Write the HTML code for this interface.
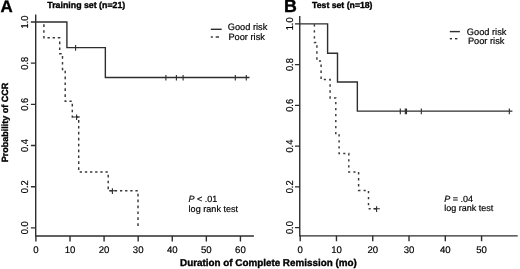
<!DOCTYPE html>
<html><head><meta charset="utf-8"><style>
html,body{margin:0;padding:0;background:#fff;}
svg{display:block;text-rendering:geometricPrecision;}
text{font-family:"Liberation Sans",Arial,sans-serif;fill:#000;stroke:#000;stroke-width:0.18px;}
.b{font-weight:bold;fill:#000;stroke:#000;stroke-width:0.35px;}
.bb{font-weight:bold;fill:#000;stroke:#000;stroke-width:0.4px;}
</style></head><body>
<svg width="520" height="269" viewBox="0 0 520 269">
<rect width="520" height="269" fill="#fff"/>
<path d="M35.7 14.6 V236 H253.9" fill="none" stroke="#2e2e2e" stroke-width="1.4"/>
<path d="M30.9 227.85 H35.7 M30.9 186.68 H35.7 M30.9 145.51 H35.7 M30.9 104.34 H35.7 M30.9 63.17 H35.7 M30.9 22 H35.7 M35.9 236 V241.5 M69.99 236 V241.5 M104.08 236 V241.5 M138.17 236 V241.5 M172.26 236 V241.5 M206.35 236 V241.5 M240.44 236 V241.5 " fill="none" stroke="#2e2e2e" stroke-width="1.4"/>
<text transform="translate(27.8 227.85) rotate(-90) scale(1 1.08)" text-anchor="middle" font-size="9.3">0.0</text>
<text transform="translate(27.8 186.68) rotate(-90) scale(1 1.08)" text-anchor="middle" font-size="9.3">0.2</text>
<text transform="translate(27.8 145.51) rotate(-90) scale(1 1.08)" text-anchor="middle" font-size="9.3">0.4</text>
<text transform="translate(27.8 104.34) rotate(-90) scale(1 1.08)" text-anchor="middle" font-size="9.3">0.6</text>
<text transform="translate(27.8 63.17) rotate(-90) scale(1 1.08)" text-anchor="middle" font-size="9.3">0.8</text>
<text transform="translate(27.8 22) rotate(-90) scale(1 1.08)" text-anchor="middle" font-size="9.3">1.0</text>
<text x="35.9" y="252.5" text-anchor="middle" font-size="9.6">0</text>
<text x="69.99" y="252.5" text-anchor="middle" font-size="9.6">10</text>
<text x="104.08" y="252.5" text-anchor="middle" font-size="9.6">20</text>
<text x="138.17" y="252.5" text-anchor="middle" font-size="9.6">30</text>
<text x="172.26" y="252.5" text-anchor="middle" font-size="9.6">40</text>
<text x="206.35" y="252.5" text-anchor="middle" font-size="9.6">50</text>
<text x="240.44" y="252.5" text-anchor="middle" font-size="9.6">60</text>
<path d="M299.75 16.1 V235.85 H517.7" fill="none" stroke="#2e2e2e" stroke-width="1.4"/>
<path d="M294.95 227.6 H299.75 M294.95 186.86 H299.75 M294.95 146.12 H299.75 M294.95 105.38 H299.75 M294.95 64.64 H299.75 M294.95 23.9 H299.75 M300.2 235.85 V241.35 M336.47 235.85 V241.35 M372.75 235.85 V241.35 M409.02 235.85 V241.35 M445.3 235.85 V241.35 M481.57 235.85 V241.35 " fill="none" stroke="#2e2e2e" stroke-width="1.4"/>
<text transform="translate(292.6 227.6) rotate(-90) scale(1 1.08)" text-anchor="middle" font-size="9.3">0.0</text>
<text transform="translate(292.6 186.86) rotate(-90) scale(1 1.08)" text-anchor="middle" font-size="9.3">0.2</text>
<text transform="translate(292.6 146.12) rotate(-90) scale(1 1.08)" text-anchor="middle" font-size="9.3">0.4</text>
<text transform="translate(292.6 105.38) rotate(-90) scale(1 1.08)" text-anchor="middle" font-size="9.3">0.6</text>
<text transform="translate(292.6 64.64) rotate(-90) scale(1 1.08)" text-anchor="middle" font-size="9.3">0.8</text>
<text transform="translate(292.6 23.9) rotate(-90) scale(1 1.08)" text-anchor="middle" font-size="9.3">1.0</text>
<text x="300.2" y="252.5" text-anchor="middle" font-size="9.6">0</text>
<text x="336.47" y="252.5" text-anchor="middle" font-size="9.6">10</text>
<text x="372.75" y="252.5" text-anchor="middle" font-size="9.6">20</text>
<text x="409.02" y="252.5" text-anchor="middle" font-size="9.6">30</text>
<text x="445.3" y="252.5" text-anchor="middle" font-size="9.6">40</text>
<text x="481.57" y="252.5" text-anchor="middle" font-size="9.6">50</text>
<path d="M43.9 24.23 L43.9 26.88 M43.9 30.13 L43.9 32.78 M43.9 36.03 L43.9 37.8 L44.67 37.8 M47.5 37.8 L49.82 37.8 M52.65 37.8 L54.97 37.8 M57.8 37.8 L59.7 37.8 L59.7 38.28 M59.7 41.53 L59.7 44.18 M59.7 47.43 L59.7 50.08 M59.7 53.33 L59.7 53.7 L61.69 53.7 M62.5 56.02 L62.5 58.68 M62.5 61.92 L62.5 64.58 M62.5 67.82 L62.5 69.5 L63.35 69.5 M65.2 70.63 L65.2 73.28 M65.2 76.53 L65.2 79.18 M65.2 82.43 L65.2 85.08 M65.2 88.33 L65.2 90.98 M65.2 94.23 L65.2 96.88 M65.2 100.13 L65.2 101.2 L66.58 101.2 M69.41 101.2 L71.73 101.2 M72.3 103.79 L72.3 106.45 M72.3 109.69 L72.3 112.35 M72.3 115.59 L72.3 117 L73.39 117 M76.22 117 L78.54 117 M78.7 120.06 L78.7 122.72 M78.7 125.96 L78.7 128.62 M78.7 131.86 L78.7 134.52 M78.7 137.76 L78.7 140.42 M78.7 143.66 L78.7 146.32 M78.7 149.56 L78.7 152.22 M78.7 155.46 L78.7 158.12 M78.7 161.36 L78.7 164.02 M78.7 167.26 L78.7 169.92 M79.71 172 L82.03 172 M84.86 172 L87.18 172 M90.01 172 L92.33 172 M95.16 172 L97.48 172 M100.31 172 L102.63 172 M105.46 172 L107.78 172 M108.2 174.76 L108.2 177.42 M108.2 180.66 L108.2 183.32 M108.2 186.56 L108.2 189.22 M109.65 190.8 L111.97 190.8 M114.8 190.8 L117.12 190.8 M119.95 190.8 L122.27 190.8 M125.1 190.8 L127.42 190.8 M130.25 190.8 L132.57 190.8 M135.4 190.8 L137.72 190.8 M138 193.72 L138 196.38 M138 199.62 L138 202.28 M138 205.52 L138 208.18 M138 211.42 L138 214.08 M138 217.32 L138 219.98 M138 223.22 L138 225.88" fill="none" stroke="#383838" stroke-width="1.45"/>
<path d="M35.7 22 L66.9 22 L66.9 47.6 L105.35 47.6 L105.35 77.5 L249.5 77.5" fill="none" stroke="#2e2e2e" stroke-width="1.4"/>
<path d="M75.6 45 V50.7 M165.9 74.9 V80.6 M176.4 74.9 V80.6 M183.1 74.9 V80.6 M235.3 74.9 V80.6 M246.3 74.9 V80.6 M76.6 114.4 V120.1 M112.4 188.2 V193.9 M73.3 117 H79.9 M109.1 190.8 H115.7" fill="none" stroke="#2e2e2e" stroke-width="1.12"/>
<path d="M314.4 24.15 L314.4 26.55 M314.4 30.15 L314.4 32.55 M314.4 36.15 L314.4 38.55 M314.4 42.15 L314.4 42.4 L316.29 42.4 M316.9 45.31 L316.9 47.71 M316.9 51.31 L316.9 53.71 M316.9 57.31 L316.9 59.71 M318.94 61 L321.06 61 M321.1 64.56 L321.1 66.96 M321.1 70.56 L321.1 72.96 M321.1 76.56 L321.1 78.96 M323.8 79.5 L325.92 79.5 M329.1 79.5 L330.1 79.5 L330.1 80.77 M330.1 84.37 L330.1 86.77 M330.1 90.37 L330.1 92.77 M330.1 96.37 L330.1 98 L330.78 98 M333.96 98 L335.8 98 L335.8 98.32 M335.8 101.92 L335.8 104.32 M335.8 107.92 L335.8 110.32 M335.8 113.92 L335.8 116.32 M335.8 119.92 L335.8 122.32 M335.8 125.92 L335.8 128.32 M335.8 131.92 L335.8 134.32 M338.38 135 L339.1 135 L339.1 136.58 M339.1 140.18 L339.1 142.58 M339.1 146.18 L339.1 148.58 M339.1 152.18 L339.1 153.5 L340.06 153.5 M343.24 153.5 L345.36 153.5 M348.54 153.5 L348.8 153.5 L348.8 155.6 M348.8 159.2 L348.8 161.6 M348.8 165.2 L348.8 167.6 M348.8 171.2 L348.8 172 L350.21 172 M353.39 172 L355.51 172 M358.6 172.11 L358.6 174.51 M358.6 178.11 L358.6 180.51 M358.6 184.11 L358.6 186.51 M358.6 190.11 L358.6 190.4 L360.46 190.4 M363.64 190.4 L365.76 190.4 M368.5 190.9 L368.5 193.3 M368.5 196.9 L368.5 199.3 M368.5 202.9 L368.5 205.3 M368.59 208.8 L370.71 208.8 M373.89 208.8 L376.01 208.8" fill="none" stroke="#383838" stroke-width="1.45"/>
<path d="M299.75 23.9 L327.6 23.9 L327.6 53.3 L337.5 53.3 L337.5 82 L357.35 82 L357.35 111.15 L512.4 111.15" fill="none" stroke="#2e2e2e" stroke-width="1.4"/>
<path d="M400.3 108.55 V114.25 M405.3 108.55 V114.25 M406.5 108.55 V114.25 M421.3 108.55 V114.25 M509.3 108.55 V114.25 M376.6 206.2 V211.9 M373.3 208.8 H379.9" fill="none" stroke="#2e2e2e" stroke-width="1.12"/>
<path d="M210.8 29.3 H221.7" stroke="#2e2e2e" stroke-width="1.4"/>
<path d="M210.8 37 H212.9" stroke="#2e2e2e" stroke-width="1.4"/>
<path d="M215.7 37 H219" stroke="#2e2e2e" stroke-width="1.4"/>
<text x="227.7" y="30" font-size="9.25">Good risk</text>
<text x="228.4" y="39.5" font-size="9.25">Poor risk</text>
<path d="M449.8 31.6 H459.9" stroke="#2e2e2e" stroke-width="1.4"/>
<path d="M449.8 38.7 H452" stroke="#2e2e2e" stroke-width="1.4"/>
<path d="M455 38.7 H457.4" stroke="#2e2e2e" stroke-width="1.4"/>
<text x="466.8" y="34.7" font-size="9.25">Good risk</text>
<text x="467.9" y="43.6" font-size="9.25">Poor risk</text>
<text x="188.6" y="202.4" font-size="9"><tspan font-style="italic">P</tspan> &lt; .01</text>
<text x="188.6" y="211.9" font-size="9.1">log rank test</text>
<text x="444.3" y="201.9" font-size="9"><tspan font-style="italic">P</tspan> = .04</text>
<text x="444.3" y="211.0" font-size="9">log rank test</text>
<text class="bb" x="0.45" y="11.5" font-size="16.9">A</text>
<text class="bb" x="284.0" y="12.35" font-size="17.8">B</text>
<text class="b" x="86.3" y="7.5" text-anchor="middle" font-size="8.8">Training set (n=21)</text>
<text class="b" x="342.3" y="8.1" text-anchor="middle" font-size="8.7">Test set (n=18)</text>
<text class="b" x="268.4" y="266.1" text-anchor="middle" font-size="9.85">Duration of Complete Remission (mo)</text>
<text class="b" transform="translate(7.6 122.4) rotate(-90)" text-anchor="middle" font-size="9">Probability of CCR</text>
</svg></body></html>
